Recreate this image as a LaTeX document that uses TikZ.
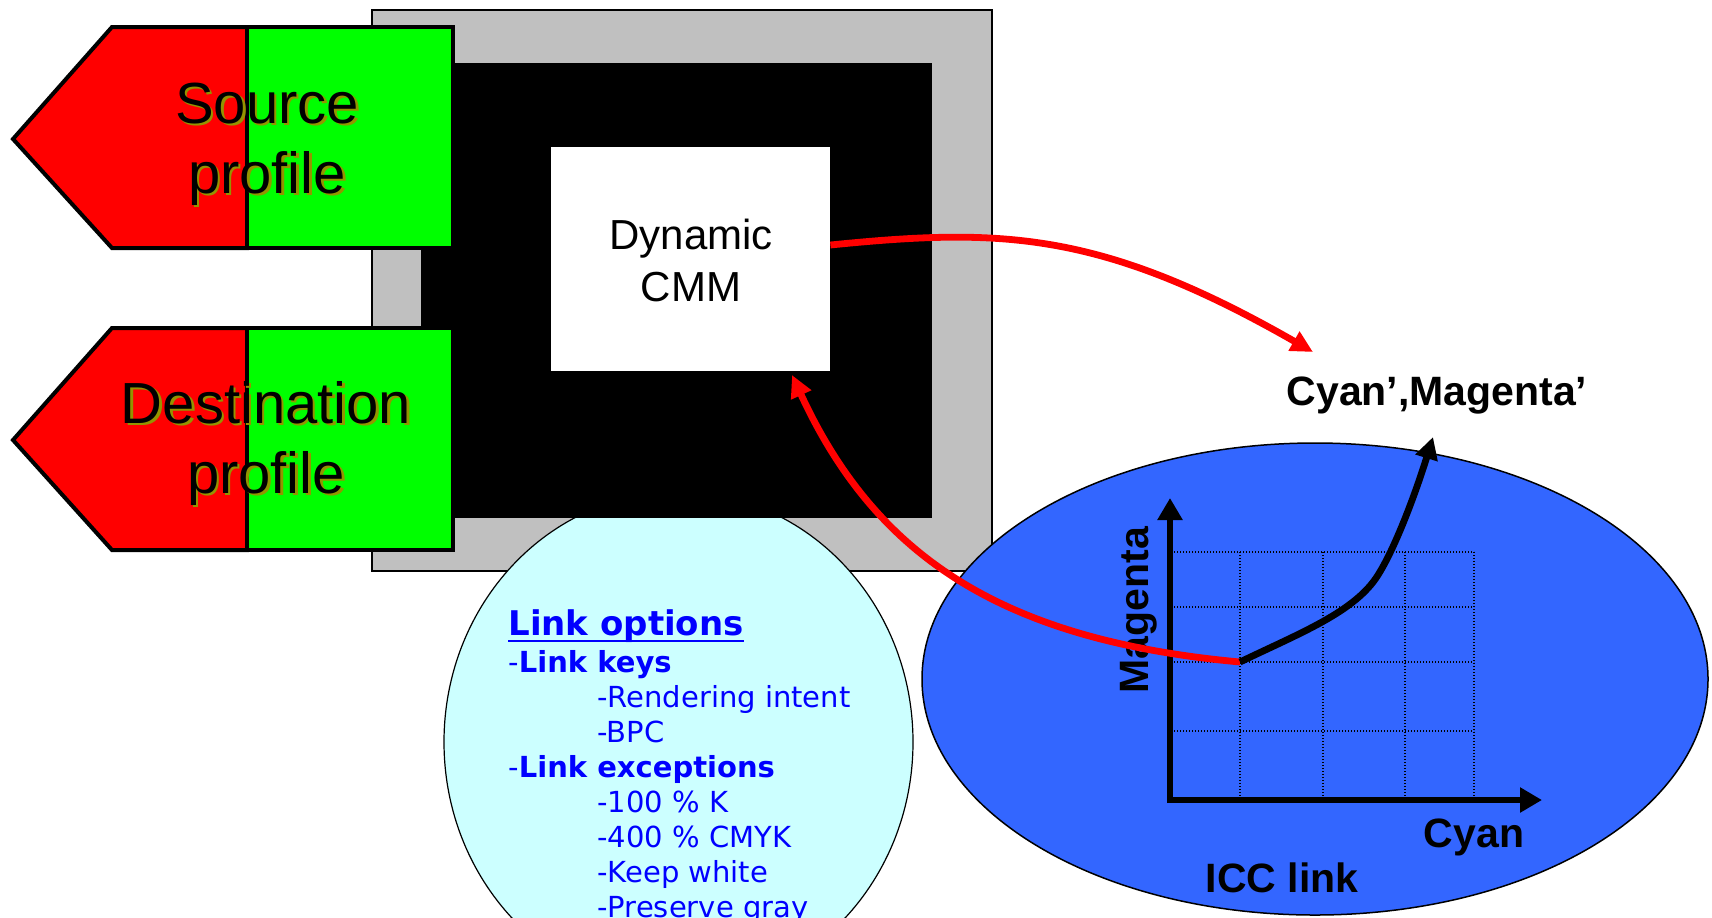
\documentclass[tikz,border=0pt]{standalone}
\usepackage{fontspec}
\setmainfont{Liberation Sans}
\newfontfamily\verd{DejaVu Sans}
\usetikzlibrary{arrows.meta}
\definecolor{grayf}{HTML}{C0C0C0}
\definecolor{redf}{HTML}{FF0000}
\definecolor{greenf}{HTML}{00FF00}
\definecolor{cyanf}{HTML}{CCFFFF}
\definecolor{bluef}{HTML}{3366FF}
\definecolor{textblue}{HTML}{0000FF}
\definecolor{shadowc}{HTML}{949400}
\newcommand\shadowed[4]{%
  \node[bigtxt, text=shadowc] (#1s) at (#2+2.5,#3+2.5) {#4};
  \node[bigtxt] (#1) at (#2,#3) {#4};
}
\begin{document}
\begin{tikzpicture}[x=0.5pt,y=-0.5pt,
  profbox/.style={line width=2pt, draw=black, line join=miter},
  bigtxt/.style={font=\fontsize{29}{35}\selectfont, inner sep=0pt, anchor=base},
  cmmtxt/.style={font=\fontsize{21}{26}\selectfont, inner sep=0pt, anchor=base},
  opttxt/.style={font=\verd\fontsize{14.5}{17}\selectfont, text=textblue, inner sep=0pt, anchor=base west},
  lbl/.style={font=\bfseries\fontsize{20.5}{24}\selectfont, inner sep=0pt},
  gridl/.style={line width=0.6pt, dash pattern=on 0.6pt off 0.9pt},
  axisl/.style={line width=3.3pt, -{Triangle[length=11pt,width=12pt]}},
  blackcurve/.style={line width=3.4pt, -{Triangle[length=11pt,width=11pt]}},
  redarrow/.style={draw=redf, line width=3.4pt, -{Triangle[length=11pt,width=10.5pt]}}
]
\useasboundingbox (0,0) rectangle (1712,917);
\clip (0,0) rectangle (1712,917);

% gray frame, options bubble, black frame
\draw[fill=grayf, line width=0.6pt] (372,10) rectangle (992,571);
\draw[fill=cyanf, line width=0.6pt] (678.5,742) ellipse [x radius=117.25pt, y radius=125pt];
\fill[black] (421,63) rectangle (932,518);
\node[fill=white, inner sep=0pt, minimum width=139.5pt, minimum height=112pt] (cmm) at (690.5,259) {};
\node[cmmtxt] (cmm1) at (691,249) {Dynamic};
\node[cmmtxt] (cmm2) at (691,301) {CMM};

% ICC link ellipse
\draw[fill=bluef, line width=0.75pt] (1315,679) ellipse [x radius=196.5pt, y radius=118pt];

% profiles
\draw[profbox, fill=redf] (13,139) -- (112,27) -- (247,27) -- (247,248) -- (112,248) -- cycle;
\draw[profbox, fill=greenf] (247,27) rectangle (453,248);
\draw[profbox, fill=redf] (13,440) -- (112,328) -- (247,328) -- (247,550) -- (112,550) -- cycle;
\draw[profbox, fill=greenf] (247,328) rectangle (453,550);
\shadowed{src1}{267}{123}{Source}
\shadowed{src2}{267}{193}{profile}
\shadowed{dst1}{266}{423}{Destination}
\shadowed{dst2}{266}{493}{profile}

% link options text
\node[opttxt, font=\verd\bfseries\fontsize{17}{20}\selectfont] (lo) at (508,635) {Link options};
\draw[textblue, line width=1.25pt] ([yshift=-3pt]lo.base west) -- ([yshift=-3pt]lo.base east);
\node[opttxt] (k1) at (508,672) {-\textbf{Link keys}};
\node[opttxt] (r1) at (597,707) {-Rendering intent};
\node[opttxt] (b1) at (597,742) {-BPC};
\node[opttxt] (k2) at (508,777) {-\textbf{Link exceptions}};
\node[opttxt] (e1) at (597,812) {-100 \% K};
\node[opttxt] (e2) at (597,847) {-400 \% CMYK};
\node[opttxt] (e3) at (597,882) {-Keep white};
\node[opttxt] (e4) at (597,917) {-Preserve gray};

% grid
\foreach \gx in {1240,1323,1405,1474} \draw[gridl] (\gx,552) -- (\gx,800);
\foreach \gy in {552,607,662,731} \draw[gridl] (1174,\gy) -- (1474,\gy);

% axes
\draw[axisl] (1170,803) -- (1170,498);
\draw[axisl] (1167,800) -- (1542,800);
\node[lbl, rotate=90] (mag) at (1138.5,610) {Magenta};
\node[lbl, anchor=base] (cy) at (1474,847) {Cyan};
\node[lbl, anchor=base] (icc) at (1282,892) {ICC link};
\node[lbl, anchor=base] (cmp) at (1437,405) {Cyan’,Magenta’};

% connectors
\coordinate (p0) at (1240,662);
\coordinate (t1) at (1313,352);
\coordinate (t2) at (1433,437);
\coordinate (t3) at (792,375);
\draw[redarrow] ([yshift=7pt]cmm.east) .. controls (1000,228) and (1100,230) .. (t1);
\draw[redarrow] (p0) .. controls (1000,640) and (875,555) .. (t3);
\draw[blackcurve] (p0) .. controls (1300,633) and (1355,612) .. (1378,575) .. controls (1395,548) and (1415,495) .. (t2);
\end{tikzpicture}
\end{document}
